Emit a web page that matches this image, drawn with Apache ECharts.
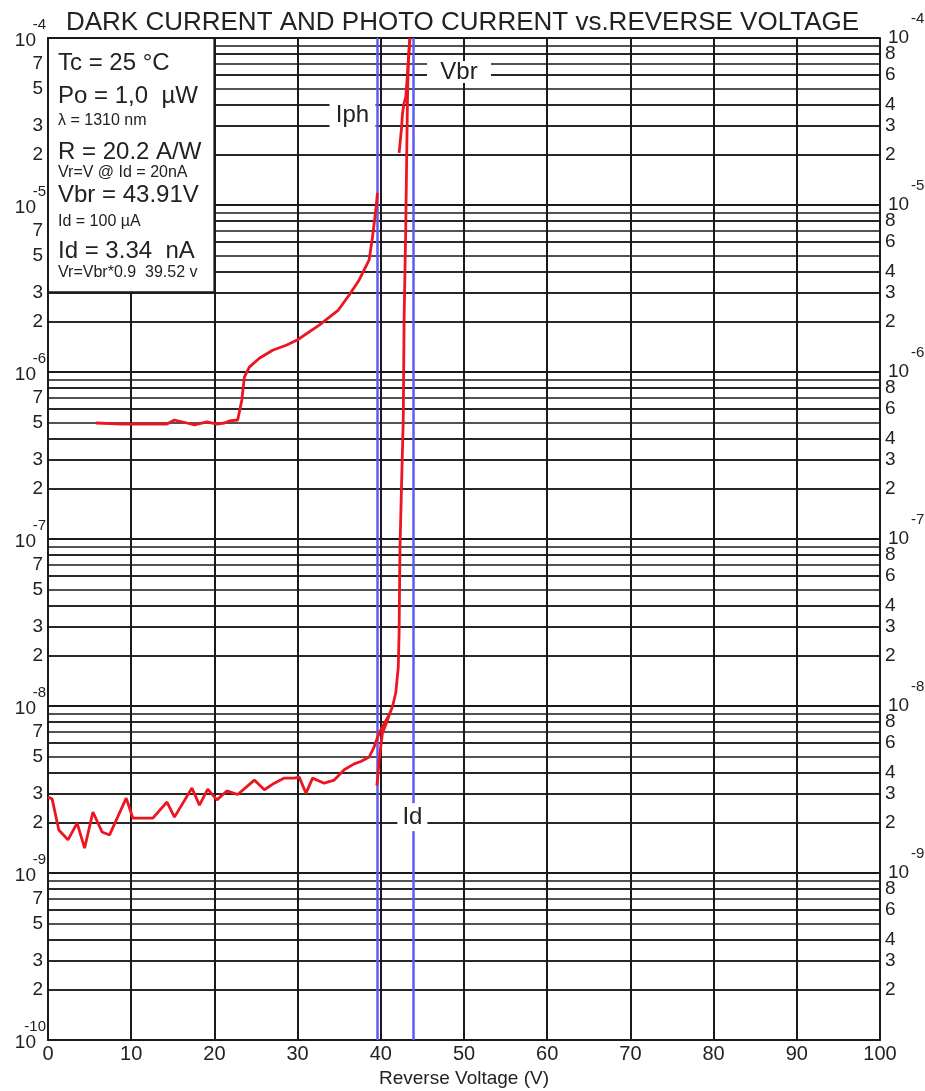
<!DOCTYPE html>
<html>
<head>
<meta charset="utf-8">
<title>Dark current and photo current vs. reverse voltage</title>
<script src="https://cdn.jsdelivr.net/npm/echarts@6/dist/echarts.min.js"></script>
<style>
  html, body { margin: 0; padding: 0; background: #fff; }
  #chart { width: 925px; height: 1091px; }
</style>
</head>
<body>
<div id="chart"></div>
<script>
  // dark current Id (A) vs reverse voltage (V)
  const darkVoltage = [0, 0.5, 1.3, 2.4, 3.5, 4.4, 5.4, 6.5, 7.4, 9.4, 10.2, 12.6, 14.3, 15.2, 17.3,
    18.2, 19.2, 20.3, 21.5, 22.8, 24.8, 26.0, 27.2, 28.4, 29.6, 30.2, 31.0, 31.8, 33.2, 34.4,
    35.6, 36.8, 37.6, 38.6, 39.2, 39.8, 41.0, 41.4, 41.8, 42.1, 42.2, 42.3, 42.5, 42.7, 42.8,
    43.0, 43.2, 43.3, 43.5]
  const darkCurrent = [2.85e-9, 2.77e-9, 1.81e-9, 1.58e-9, 1.99e-9, 1.41e-9, 2.32e-9, 1.76e-9, 1.69e-9, 2.81e-9, 2.13e-9, 2.13e-9, 2.66e-9, 2.16e-9, 3.23e-9,
    2.55e-9, 3.18e-9, 2.74e-9, 3.1e-9, 2.95e-9, 3.6e-9, 3.15e-9, 3.45e-9, 3.7e-9, 3.7e-9, 3.75e-9, 3.0e-9, 3.7e-9, 3.45e-9, 3.6e-9,
    4.15e-9, 4.5e-9, 4.65e-9, 4.95e-9, 5.7e-9, 6.9e-9, 8.83e-9, 9.9e-9, 1.2e-8, 1.71e-8, 2.73e-8, 8.6e-8, 2.16e-7, 5.2e-7, 2.05e-6,
    7.4e-6, 4.08e-5, 7.1e-5, 1e-4]

  // second sweep starting at Vr = Vbr * 0.9
  const sweepVoltage = [39.52, 39.6, 39.8, 40.2, 40.8, 41.0]
  const sweepCurrent = [3.34e-9, 3.6e-9, 4.75e-9, 6.9e-9, 8.2e-9, 8.83e-9]

  // photo current Iph, Po = 1.0 uW
  const photoVoltage = [5.8, 9.0, 11.0, 14.3, 15.2, 16.7, 17.6, 19.1, 20.3, 21.2, 21.8, 22.8, 23.3, 23.6,
    24.2, 25.4, 27.0, 28.7, 30.0, 32.6, 34.9, 36.2, 37.4, 38.6, 39.0, 39.4, 39.6]
  const photoCurrent = [4.95e-7, 4.88e-7, 4.88e-7, 4.88e-7, 5.16e-7, 4.95e-7, 4.82e-7, 5.02e-7, 4.88e-7, 4.95e-7, 5.09e-7, 5.16e-7, 6.8e-7, 9.33e-7,
    1.07e-6, 1.21e-6, 1.35e-6, 1.45e-6, 1.56e-6, 1.91e-6, 2.35e-6, 2.89e-6, 3.56e-6, 4.69e-6, 6.43e-6, 9.33e-6, 1.18e-5]
  const photoBrkVoltage = [42.2, 42.3, 42.5, 42.6, 42.8, 43.0, 43.2, 43.4, 43.5]
  const photoBrkCurrent = [2.05e-5, 2.3e-5, 2.93e-5, 3.5e-5, 4.08e-5, 4.43e-5, 6e-5, 8.5e-5, 1e-4]

  // Vr and Vbr markers
  const markerVoltage = [39.52, 43.91]

  // axes
  const decades = [-10, -9, -8, -7, -6, -5]
  const gridSteps = [2, 3, 4, 5, 6, 7, 8, 9]
  const leftStepLabels = [7, 5, 3, 2]
  const rightStepLabels = [8, 6, 4, 3, 2]

  const titleText = 'DARK CURRENT AND PHOTO CURRENT vs.REVERSE VOLTAGE'
  const infoLines = ['Tc = 25 °C', 'Po = 1,0  µW', 'λ = 1310 nm', 'R = 20.2 A/W', 'Vr=V @ Id = 20nA',
    'Vbr = 43.91V', 'Id = 100 µA', 'Id = 3.34  nA', 'Vr=Vbr*0.9  39.52 v']
  const infoBig = [true, true, false, true, false, true, false, true, false]
  const infoY = [63, 96, 121, 152, 173, 195, 222, 251, 273]

  const FONT = '"Liberation Sans", Arial, sans-serif'
  const INK = '#1a1a1a'
  const RED = '#ec1520'
  const BLUE = '#5c5cf2'

  const pairs = (xs, ys) => xs.map((x, i) => [x, ys[i]])

  const gridLines = []
  decades.forEach(e => {
    gridSteps.forEach(m => {
      const v = m * Math.pow(10, e)
      gridLines.push({
        yAxis: v,
        label: { show: leftStepLabels.includes(m), position: 'start', formatter: String(m) },
      })
      if (rightStepLabels.includes(m)) {
        gridLines.push({
          yAxis: v,
          label: { show: true, position: 'end', formatter: String(m) },
        })
      }
    })
  })

  const decadeLabel = v => '{e|' + Math.round(Math.log10(v)) + '}\n{b|10}'

  const chart = echarts.init(document.getElementById('chart'))

  const option = {
    animation: false,
    backgroundColor: '#fff',
    title: {
      text: titleText,
      left: 'center',
      top: 5,
      textStyle: { fontFamily: FONT, fontSize: 26, fontWeight: 'normal', color: '#222' },
    },
    grid: { left: 48, right: 45, top: 38, bottom: 51, show: false, outerBoundsMode: 'none', containLabel: false },
    xAxis: {
      type: 'value',
      min: 0,
      max: 100,
      interval: 10,
      name: 'Reverse Voltage (V)',
      nameLocation: 'middle',
      nameGap: 28,
      nameTextStyle: { fontFamily: FONT, fontSize: 19, color: '#222' },
      axisLine: { show: true, lineStyle: { color: INK, width: 2 } },
      axisTick: { show: false },
      axisLabel: { fontFamily: FONT, fontSize: 20, color: '#222', margin: 4 },
      splitLine: { show: true, lineStyle: { color: INK, width: 2 } },
    },
    yAxis: [
      {
        type: 'log',
        logBase: 10,
        min: 1e-10,
        max: 1e-4,
        position: 'left',
        axisLine: { show: true, lineStyle: { color: INK, width: 2 } },
        axisTick: { show: false },
        splitLine: { show: true, lineStyle: { color: INK, width: 2 } },
        axisLabel: {
          margin: 2,
          padding: [0, 0, 8, 0],
          formatter: decadeLabel,
          rich: {
            e: { fontFamily: FONT, fontSize: 15, lineHeight: 14, align: 'right', color: '#222' },
            b: { fontFamily: FONT, fontSize: 19, lineHeight: 18, align: 'right', color: '#222', padding: [0, 10, 0, 0] },
          },
        },
      },
      {
        type: 'log',
        logBase: 10,
        min: 1e-10,
        max: 1e-4,
        position: 'right',
        axisLine: { show: true, lineStyle: { color: INK, width: 2 } },
        axisTick: { show: false },
        splitLine: { show: false },
        axisLabel: {
          margin: 8,
          padding: [0, 0, 20, 0],
          // the right scale has no label at its bottom end
          formatter: v => (v <= 1.5e-10 ? '' : decadeLabel(v)),
          rich: {
            e: { fontFamily: FONT, fontSize: 15, lineHeight: 20, align: 'left', color: '#222', padding: [0, 0, 0, 23] },
            b: { fontFamily: FONT, fontSize: 19, lineHeight: 18, align: 'left', color: '#222' },
          },
        },
      },
    ],
    graphic: infoLines.map((t, i) => ({
      type: 'text',
      x: 58,
      y: infoY[i],
      z: 100,
      style: {
        text: t,
        fontFamily: FONT,
        fontSize: infoBig[i] ? 24 : 16,
        fill: '#222',
        verticalAlign: 'middle',
      },
    })),
    series: [
      {
        // frame: minor grid lines and the info box
        name: 'frame',
        type: 'line',
        data: [],
        z: 1,
        silent: true,
        markLine: {
          z: 1,
          silent: true,
          symbol: 'none',
          precision: 20,
          animation: false,
          lineStyle: { color: INK, width: 1.5, type: 'solid' },
          label: { fontFamily: FONT, fontSize: 19, color: '#222', distance: 5, padding: [8, 0, 0, 0] },
          emphasis: { disabled: true },
          data: gridLines,
        },
        markArea: {
          z: 3,
          silent: true,
          itemStyle: { color: '#fff', borderColor: INK, borderWidth: 2 },
          data: [[{ xAxis: 0, yAxis: 1e-4 }, { xAxis: 20, yAxis: 3e-6 }]],
        },
      },
      {
        name: 'markers',
        type: 'line',
        data: [],
        z: 6,
        silent: true,
        markLine: {
          z: 6,
          silent: true,
          symbol: 'none',
          precision: 20,
          animation: false,
          label: { show: false },
          lineStyle: { color: BLUE, width: 2.5, type: 'solid' },
          emphasis: { disabled: true },
          data: markerVoltage.map(v => ({ xAxis: v })),
        },
      },
      {
        name: 'Id',
        type: 'line',
        z: 10,
        showSymbol: false,
        lineStyle: { color: RED, width: 2.8 },
        data: pairs(darkVoltage, darkCurrent),
        markPoint: {
          z: 12,
          silent: true,
          symbol: 'rect',
          itemStyle: { color: '#fff' },
          label: { show: true, position: 'inside', formatter: '{b}', fontFamily: FONT, fontSize: 24, color: '#222' },
          data: [
            { name: 'Vbr', coord: [49.4, 6.25e-5], symbolSize: [64, 22] },
            { name: 'Iph', coord: [36.6, 3.46e-5], symbolSize: [46, 28] },
            { name: 'Id', coord: [43.8, 2.16e-9], symbolSize: [30, 28] },
          ],
        },
      },
      {
        name: 'Id sweep',
        type: 'line',
        z: 10,
        showSymbol: false,
        lineStyle: { color: RED, width: 2.8 },
        data: pairs(sweepVoltage, sweepCurrent),
      },
      {
        name: 'Iph',
        type: 'line',
        z: 10,
        showSymbol: false,
        lineStyle: { color: RED, width: 2.8 },
        data: pairs(photoVoltage, photoCurrent),
      },
      {
        name: 'Iph breakdown',
        type: 'line',
        z: 10,
        showSymbol: false,
        lineStyle: { color: RED, width: 2.8 },
        data: pairs(photoBrkVoltage, photoBrkCurrent),
      },
    ],
  }

  chart.setOption(option)
</script>
</body>
</html>
